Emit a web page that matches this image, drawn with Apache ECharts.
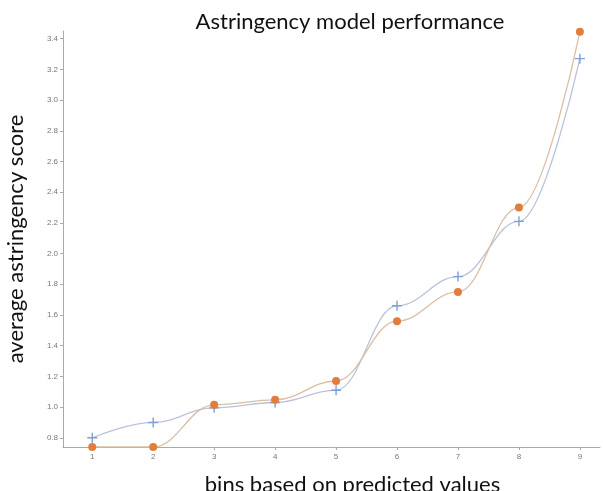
<!DOCTYPE html>
<html><head><meta charset="utf-8">
<script src="https://cdn.jsdelivr.net/npm/echarts@6/dist/echarts.min.js"></script>
<style>html,body{margin:0;padding:0;background:#fff}#c{width:603px;height:491px}</style>
</head><body><div id="c"></div>
<script>
const bins = [1, 2, 3, 4, 5, 6, 7, 8, 9];
const observed = [0.74, 0.74, 1.015, 1.047, 1.17, 1.56, 1.75, 2.30, 3.445];
const predicted = [0.80, 0.90, 0.995, 1.03, 1.11, 1.66, 1.85, 2.21, 3.27];
const yTicks = [0.8, 1.0, 1.2, 1.4, 1.6, 1.8, 2.0, 2.2, 2.4, 2.6, 2.8, 3.0, 3.2, 3.4];

const chart = echarts.init(document.getElementById('c'));
const cross = 'path://M4.3,0 L5.7,0 L5.7,4.3 L10,4.3 L10,5.7 L5.7,5.7 L5.7,10 L4.3,10 L4.3,5.7 L0,5.7 L0,4.3 L4.3,4.3 Z';
chart.setOption({
  animation: false,
  title: {
    text: 'Astringency model performance', left: 345, top: 6, textAlign: 'center',
    textStyle: {fontFamily: 'Lato', fontSize: 22, fontWeight: 'normal', color: '#111'}
  },
  grid: {left: 63, right: 3, top: 31, bottom: 44, containLabel: false, outerBoundsMode: 'none'},
  xAxis: {
    type: 'value', min: 0.52, max: 9.33,
    name: 'bins based on predicted values', nameLocation: 'middle', nameGap: 27,
    nameTextStyle: {fontFamily: 'Lato', fontSize: 22, color: '#111', padding: [0, 0, 0, 42]},
    axisLine: {lineStyle: {color: '#aaa'}},
    axisTick: {show: true, length: 3, lineStyle: {color: '#aaa'}, customValues: bins},
    axisLabel: {fontSize: 8, color: '#777', margin: 6, customValues: bins},
    splitLine: {show: false}
  },
  yAxis: {
    type: 'value', min: 0.74, max: 3.45,
    name: 'average astringency score', nameLocation: 'middle', nameGap: 36,
    nameTextStyle: {fontFamily: 'Lato', fontSize: 22, color: '#111'},
    axisLine: {show: true, lineStyle: {color: '#aaa'}},
    axisTick: {show: true, length: 3, lineStyle: {color: '#aaa'}, customValues: yTicks},
    axisLabel: {fontSize: 8, color: '#777', margin: 5, customValues: yTicks, formatter: v => v.toFixed(1)},
    splitLine: {show: false}
  },
  series: [
    {
      type: 'line', data: bins.map((b, i) => [b, predicted[i]]),
      smooth: 0.4, smoothMonotone: 'x',
      symbol: cross, symbolSize: 10,
      itemStyle: {color: '#7f9fd6'},
      lineStyle: {color: '#b9c3da', width: 1.3}
    },
    {
      type: 'line', data: bins.map((b, i) => [b, observed[i]]),
      smooth: 0.4, smoothMonotone: 'x',
      symbol: 'circle', symbolSize: 8,
      itemStyle: {color: '#e27d3e'},
      lineStyle: {color: '#d8bea6', width: 1.3}
    }
  ]
});
</script></body></html>
